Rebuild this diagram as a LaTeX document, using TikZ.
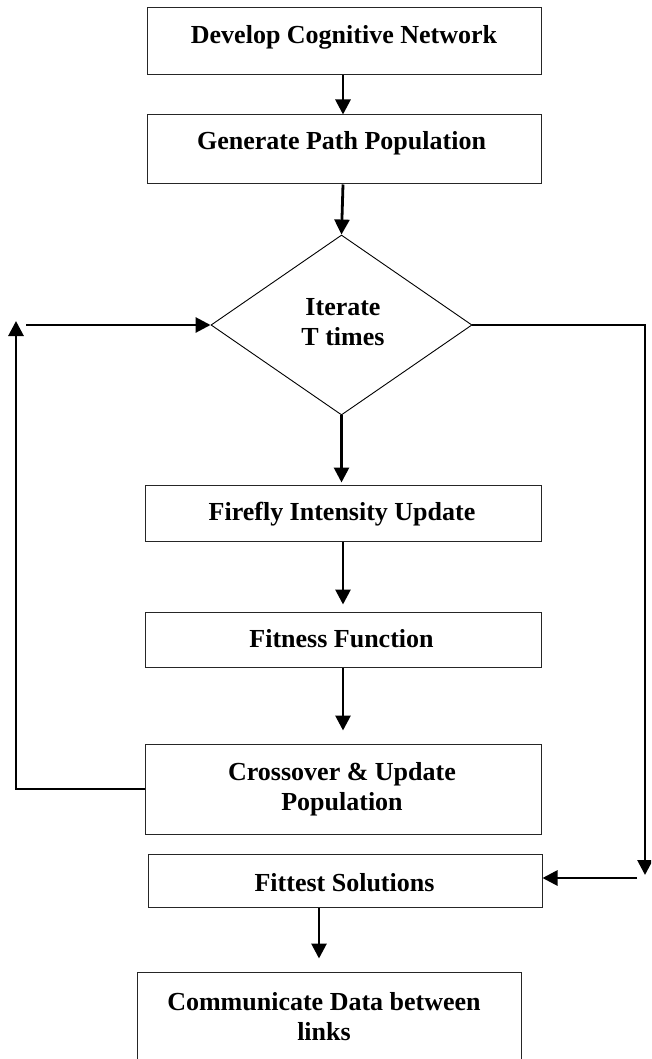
\documentclass[tikz,border=0pt]{standalone}
\usepackage{fontspec}
\setmainfont{Liberation Serif}
\usetikzlibrary{shapes.geometric,arrows.meta,calc}
\tikzset{
  box/.style={draw=black!85, line width=1pt, rectangle, inner sep=0pt, fill=none},
  lbl/.style={inner sep=0pt, align=center, font=\bfseries\fontsize{26}{30}\selectfont, text height=18.5pt, text depth=0pt},
  dia/.style={draw=black, line width=0.9pt, diamond, inner sep=0pt, minimum width=261pt, minimum height=180pt},
  flow/.style={line width=2.8pt, -{Triangle[length=15pt,width=15pt]}},
  plain/.style={line width=2.8pt}
}
\begin{document}
\begin{tikzpicture}[x=1pt,y=-1pt]
\useasboundingbox (0,0) rectangle (651,1059);
\clip (0,0) rectangle (651,1059);
% boxes
\node[box, minimum width=394pt, minimum height=67pt] (b1) at (344,41.5) {};
\node[box, minimum width=394pt, minimum height=69pt] (b2) at (344,149.5) {};
\node[dia] (d) at (341.5,325) {};
\node[box, minimum width=396pt, minimum height=56pt] (b3) at (343,513) {};
\node[box, minimum width=396pt, minimum height=55pt] (b4) at (343,639.5) {};
\node[box, minimum width=396pt, minimum height=90pt] (b5) at (343,789) {};
\node[box, minimum width=394pt, minimum height=53pt] (b6) at (345,880.5) {};
\node[box, minimum width=384pt, minimum height=103pt] (b7) at (329,1023.5) {};
% texts (multi-line texts are placed by their last line)
\node[lbl] (t1) at (344,34.6) {Develop Cognitive Network};
\node[lbl] (t2) at (341.5,140) {Generate Path Population};
\node[lbl] (td) at (343,336.7) {Iterate\\T times};
\node[lbl] (t3) at (342,511.7) {Firefly Intensity Update};
\node[lbl] (t4) at (341.5,638.5) {Fitness Function};
\node[lbl] (t5) at (342,801.7) {Crossover \& Update\\Population};
\node[lbl] (t6) at (344.5,881.8) {Fittest Solutions};
\node[lbl] (t7) at (324,1030.8) {Communicate Data between\\links};
% coordinates for loose ends
\coordinate (L2) at (16,321);
\coordinate (L3) at (26,325);
\coordinate (R2) at (645,875);
\coordinate (R3) at (637,878);
% connectors
\draw[flow] ([xshift=-1pt]b1.south) -- ([xshift=-1pt]b2.north);
\draw[flow] ([xshift=-1pt]b2.south) -- (d.north);
\draw[flow, shorten >=2pt] (d.south) -- (b3.north -| d.south);
\draw[flow, shorten >=7pt] (b3.south) -- (b4.north);
\draw[flow, shorten >=13pt] (b4.south) -- (b5.north);
\draw[flow] (b5.west) -| (L2);
\draw[flow] (L3) -- (d.west);
\draw[flow] (d.east) -| (R2);
\draw[flow] (R3) -- (R3 -| b6.east);
\draw[flow, shorten >=13pt] ([xshift=-26pt]b6.south) -- ([xshift=-10pt]b7.north);
\end{tikzpicture}
\end{document}
